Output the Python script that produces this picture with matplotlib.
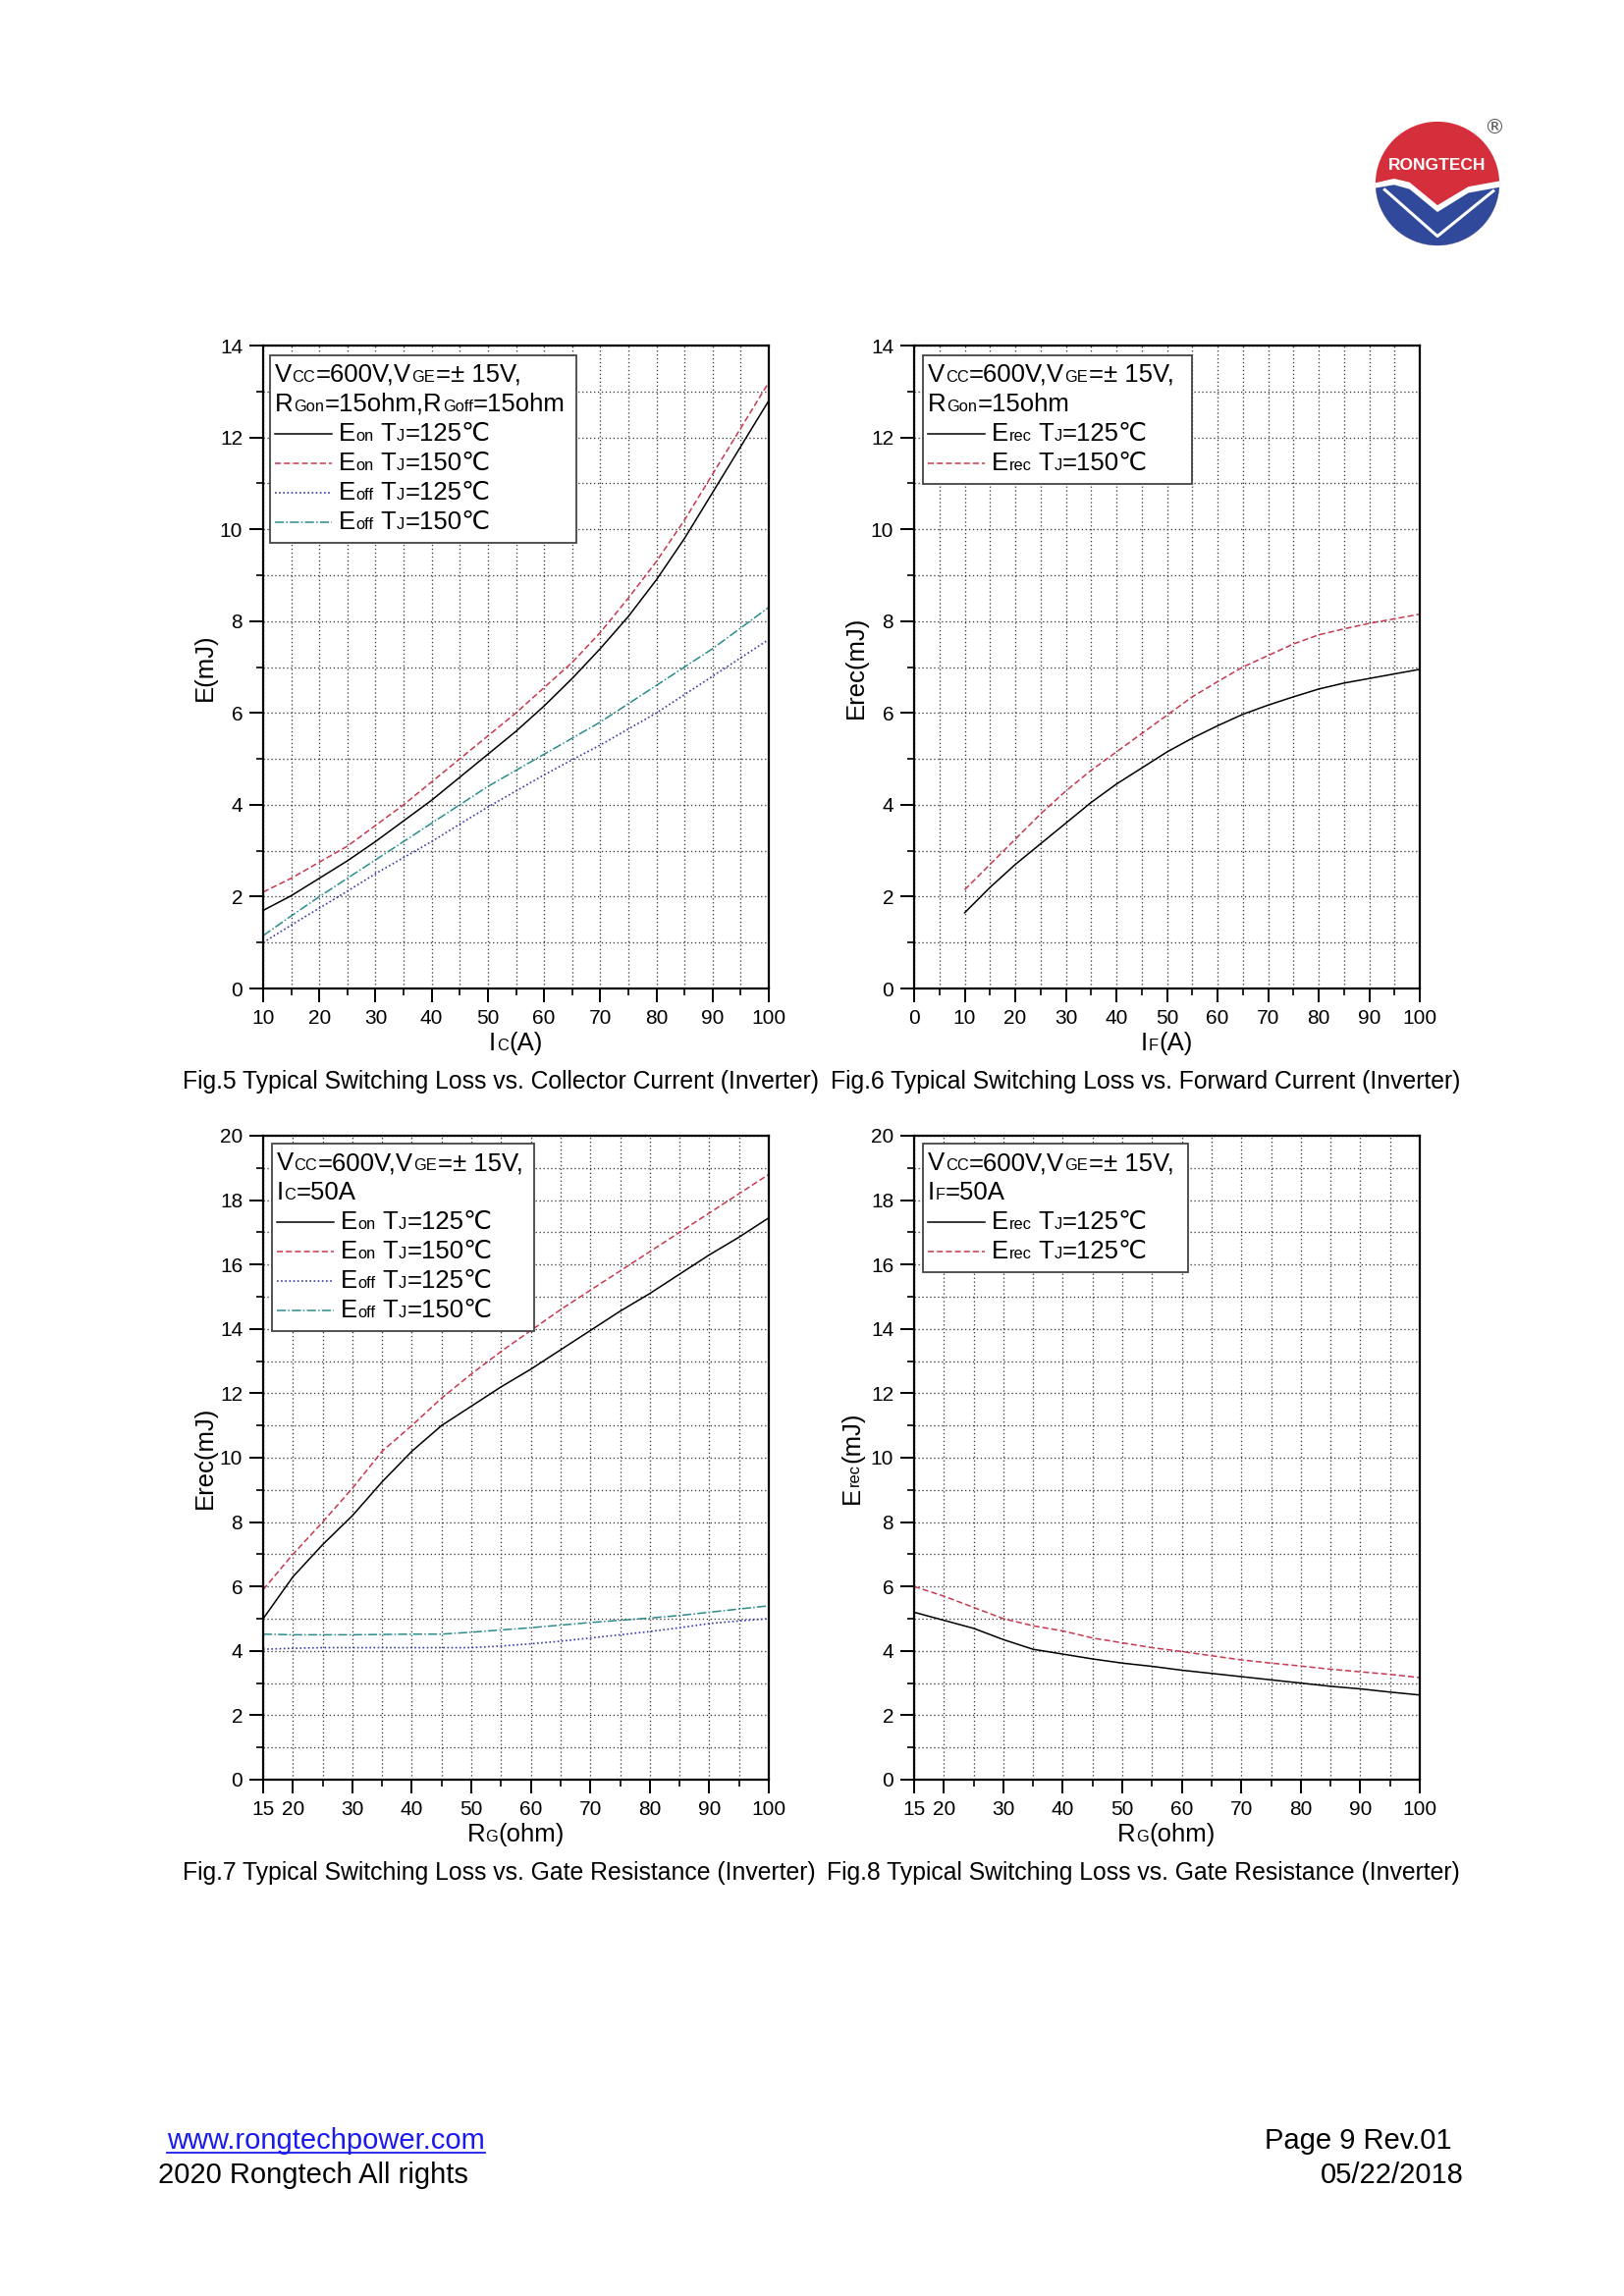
import matplotlib
matplotlib.use('Agg')
import matplotlib.pyplot as plt
import numpy as np
from matplotlib.transforms import IdentityTransform
from matplotlib.ticker import MultipleLocator, FixedLocator
from matplotlib.patches import Circle, Rectangle, Polygon
from matplotlib.lines import Line2D

W, H = 1654, 2339
plt.rcParams['font.family'] = ['Liberation Sans', 'DejaVu Sans']

# Fig.5 - switching loss vs collector current
ic = [10, 15, 20, 25, 30, 35, 40, 45, 50, 55, 60, 65, 70, 75, 80, 85, 90, 95, 100]
eon125_ic = [1.7, 2.02, 2.4, 2.78, 3.2, 3.65, 4.1, 4.6, 5.1, 5.6, 6.15, 6.75, 7.4, 8.1, 8.9, 9.8, 10.8, 11.8, 12.8]
eon150_ic = [2.1, 2.4, 2.75, 3.1, 3.55, 4.0, 4.5, 5.0, 5.5, 6.0, 6.55, 7.1, 7.75, 8.5, 9.3, 10.2, 11.2, 12.2, 13.2]
eoff125_ic = [1.0, 1.38, 1.75, 2.12, 2.5, 2.85, 3.2, 3.58, 3.95, 4.3, 4.65, 4.98, 5.3, 5.65, 6.0, 6.4, 6.8, 7.2, 7.6]
eoff150_ic = [1.15, 1.58, 2.0, 2.4, 2.8, 3.2, 3.6, 4.0, 4.4, 4.75, 5.1, 5.45, 5.8, 6.2, 6.6, 7.0, 7.4, 7.85, 8.3]

# Fig.6 - recovery loss vs forward current
i_f = [10, 15, 20, 25, 30, 35, 40, 45, 50, 55, 60, 65, 70, 75, 80, 85, 90, 95, 100]
erec125_if = [1.65, 2.2, 2.7, 3.15, 3.6, 4.05, 4.45, 4.8, 5.15, 5.45, 5.72, 5.97, 6.17, 6.35, 6.52, 6.65, 6.75, 6.85, 6.95]
erec150_if = [2.15, 2.7, 3.25, 3.8, 4.3, 4.75, 5.15, 5.55, 5.95, 6.35, 6.68, 7.0, 7.25, 7.5, 7.7, 7.83, 7.95, 8.05, 8.15]

# Fig.7 - switching loss vs gate resistance
rg = [15, 20, 25, 30, 35, 40, 45, 50, 55, 60, 65, 70, 75, 80, 85, 90, 95, 100]
eon125_rg = [5.0, 6.3, 7.3, 8.2, 9.25, 10.2, 11.0, 11.6, 12.2, 12.75, 13.35, 13.95, 14.55, 15.1, 15.7, 16.3, 16.85, 17.45]
eon150_rg = [5.9, 7.0, 8.0, 9.05, 10.2, 11.0, 11.85, 12.6, 13.3, 13.95, 14.6, 15.2, 15.8, 16.4, 17.0, 17.6, 18.2, 18.8]
eoff125_rg = [4.05, 4.08, 4.1, 4.1, 4.1, 4.1, 4.1, 4.1, 4.15, 4.22, 4.3, 4.4, 4.5, 4.6, 4.72, 4.85, 4.93, 5.0]
eoff150_rg = [4.52, 4.5, 4.5, 4.5, 4.51, 4.52, 4.52, 4.58, 4.65, 4.72, 4.8, 4.88, 4.95, 5.02, 5.1, 5.2, 5.3, 5.4]

# Fig.8 - recovery loss vs gate resistance
erec125_rg = [5.2, 4.95, 4.7, 4.35, 4.05, 3.9, 3.75, 3.62, 3.52, 3.4, 3.3, 3.2, 3.1, 3.0, 2.9, 2.82, 2.72, 2.63]
erec150_rg = [6.0, 5.7, 5.35, 5.0, 4.78, 4.62, 4.4, 4.25, 4.1, 3.98, 3.85, 3.72, 3.62, 3.53, 3.43, 3.35, 3.27, 3.17]

RED = '#c8384f'
BLUE = '#3a3aa8'
TEAL = '#2a8c8c'
STY = {
    'k': dict(color='black', linestyle='-', linewidth=1.1),
    'r': dict(color=RED, linestyle=(0, (4, 2)), linewidth=1.1),
    'b': dict(color=BLUE, linestyle=(0, (1, 1.5)), linewidth=1.2),
    't': dict(color=TEAL, linestyle=(0, (6, 1.5, 1, 1.5)), linewidth=1.1),
}

fig = plt.figure(figsize=(W / 100, H / 100), dpi=100)
renderer = fig.canvas.get_renderer()
ID = IdentityTransform()


def text_width(s, size):
    t = fig.text(0, 0, s, fontsize=size, transform=ID)
    w = t.get_window_extent(renderer).width
    t.remove()
    return w


def rich(x, y, parts, size, rot=0, center=False, color='black', small=0.64, gap=0.5):
    # parts: list of (text, is_small) or a number (extra gap in px)
    # x, y: baseline start in top-left pixel coords
    items = []
    for p in parts:
        if isinstance(p, (int, float)):
            items.append((None, p))
            continue
        s, sm = p
        fs = size * small if sm else size
        w = text_width(s, fs)
        t = fig.text(0, 0, s, fontsize=fs, transform=ID,
                     ha='left', va='baseline', rotation=rot, rotation_mode='anchor', color=color)
        items.append((t, w + gap))
    total = sum(w for _, w in items)
    pos = -total / 2 if center else 0
    for t, w in items:
        if t is not None:
            if rot:
                t.set_position((x, H - y + pos))
            else:
                t.set_position((x + pos, H - y))
        pos += w
    return total


def make_axes(l, t, r, b, xlim, xmajor, xminor, ymax):
    ax = fig.add_axes([l / W, 1 - b / H, (r - l) / W, (b - t) / H])
    ax.set_xlim(*xlim)
    ax.set_ylim(0, ymax)
    ax.xaxis.set_major_locator(FixedLocator(xmajor))
    ax.xaxis.set_minor_locator(FixedLocator(xminor))
    ax.yaxis.set_major_locator(MultipleLocator(2))
    ax.yaxis.set_minor_locator(MultipleLocator(1))
    ax.tick_params(which='major', direction='out', length=10, width=1.4, labelsize=15, pad=5)
    ax.tick_params(which='minor', direction='out', length=5, width=1.2)
    ax.grid(True, which='both', linestyle=(0, (1, 2)), color='#3a3a3a', linewidth=0.95)
    for sp in ax.spines.values():
        sp.set_linewidth(1.6)
    return ax


FS = 18.5


def legend_box(l, t, width, header, entries):
    # header: list of part-lists; entries: (style key, part-list)
    n = len(header) + len(entries)
    base0 = t + 27
    bottom = base0 + 30 * (n - 1) + 14
    fig.add_artist(Rectangle((l, H - bottom), width, bottom - t, transform=ID,
                             facecolor='white', edgecolor='#444444', linewidth=1.3, zorder=1))
    y = base0
    for parts in header:
        rich(l + 5, y, parts, FS)
        y += 30
    for key, parts in entries:
        st = STY[key]
        fig.add_artist(Line2D([l + 5, l + 63], [H - y + 7, H - y + 7], transform=ID,
                              color=st['color'], linestyle=st['linestyle'], linewidth=st['linewidth'], zorder=2))
        rich(l + 70, y, parts, FS)
        y += 30


def entry(e, tj):
    return [('E', False), (e, True), 6, ('T', False), ('J', True), ('=' + tj + '\u2103', False)]


VCC = [('V', False), ('CC', True), ('=600V,V', False), ('GE', True), ('=\u00b1 15V,', False)]

L1, R1, L2, R2 = 268, 783, 931, 1446
T1, B1, T2, B2 = 352, 1007, 1157, 1813
CAP = 17.8

# ---------------- Fig.5 ----------------
ax5 = make_axes(L1, T1, R1, B1, (10, 100), list(range(10, 101, 10)), list(range(15, 100, 10)), 14)
ax5.plot(ic, eon125_ic, **STY['k'])
ax5.plot(ic, eon150_ic, **STY['r'])
ax5.plot(ic, eoff125_ic, **STY['b'])
ax5.plot(ic, eoff150_ic, **STY['t'])
legend_box(L1 + 7, T1 + 10, 312,
           [VCC, [('R', False), ('Gon', True), ('=15ohm,R', False), ('Goff', True), ('=15ohm', False)]],
           [('k', entry('on', '125')), ('r', entry('on', '150')), ('b', entry('off', '125')), ('t', entry('off', '150'))])
rich((L1 + R1) / 2, B1 + 63, [('I', False), ('C', True), ('(A)', False)], FS, center=True)
rich(L1 - 52, (T1 + B1) / 2, [('E(mJ)', False)], FS, rot=90, center=True)
fig.text(186, H - (B1 + 102), 'Fig.5 Typical Switching Loss vs. Collector Current (Inverter)',
         transform=ID, fontsize=CAP, ha='left', va='baseline')

# ---------------- Fig.6 ----------------
ax6 = make_axes(L2, T1, R2, B1, (0, 100), list(range(0, 101, 10)), list(range(5, 100, 10)), 14)
ax6.plot(i_f, erec125_if, **STY['k'])
ax6.plot(i_f, erec150_if, **STY['r'])
legend_box(L2 + 9, T1 + 10, 274,
           [VCC, [('R', False), ('Gon', True), ('=15ohm', False)]],
           [('k', entry('rec', '125')), ('r', entry('rec', '150'))])
rich((L2 + R2) / 2, B1 + 63, [('I', False), ('F', True), ('(A)', False)], FS, center=True)
rich(L2 - 52, (T1 + B1) / 2, [('Erec(mJ)', False)], FS, rot=90, center=True)
fig.text(846, H - (B1 + 102), 'Fig.6 Typical Switching Loss vs. Forward Current (Inverter)',
         transform=ID, fontsize=CAP, ha='left', va='baseline')

# ---------------- Fig.7 ----------------
rg_major = [15] + list(range(20, 101, 10))
rg_minor = list(range(25, 100, 10))
ax7 = make_axes(L1, T2, R1, B2, (15, 100), rg_major, rg_minor, 20)
ax7.plot(rg, eon125_rg, **STY['k'])
ax7.plot(rg, eon150_rg, **STY['r'])
ax7.plot(rg, eoff125_rg, **STY['b'])
ax7.plot(rg, eoff150_rg, **STY['t'])
legend_box(L1 + 9, T2 + 8, 267,
           [VCC, [('I', False), ('C', True), ('=50A', False)]],
           [('k', entry('on', '125')), ('r', entry('on', '150')), ('b', entry('off', '125')), ('t', entry('off', '150'))])
rich((L1 + R1) / 2, B2 + 63, [('R', False), ('G', True), ('(ohm)', False)], FS, center=True)
rich(L1 - 52, (T2 + B2) / 2, [('Erec(mJ)', False)], FS, rot=90, center=True)
fig.text(186, H - (B2 + 102), 'Fig.7 Typical Switching Loss vs. Gate Resistance (Inverter)',
         transform=ID, fontsize=CAP, ha='left', va='baseline')

# ---------------- Fig.8 ----------------
ax8 = make_axes(L2, T2, R2, B2, (15, 100), rg_major, rg_minor, 20)
ax8.plot(rg, erec125_rg, **STY['k'])
ax8.plot(rg, erec150_rg, **STY['r'])
legend_box(L2 + 9, T2 + 8, 270,
           [VCC, [('I', False), ('F', True), ('=50A', False)]],
           [('k', entry('rec', '125')), ('r', entry('rec', '125'))])
rich((L2 + R2) / 2, B2 + 63, [('R', False), ('G', True), ('(ohm)', False)], FS, center=True)
rich(L2 - 56, (T2 + B2) / 2, [('E', False), ('rec', True), ('(mJ)', False)], FS, rot=90, center=True)
fig.text(842, H - (B2 + 102), 'Fig.8 Typical Switching Loss vs. Gate Resistance (Inverter)',
         transform=ID, fontsize=CAP, ha='left', va='baseline')

# ---------------- logo ----------------
cx, cy, r = 1464, 187, 63
lax = fig.add_axes([(cx - r - 2) / W, 1 - (cy + r + 2) / H, (2 * r + 4) / W, (2 * r + 4) / H])
lax.set_xlim(-1.03, 1.03)
lax.set_ylim(-1.03, 1.03)
lax.axis('off')
clip = Circle((0, 0), 1, transform=lax.transData)
lax.add_patch(Circle((0, 0), 1, facecolor='#d62f3c', edgecolor='none'))
band_top = [(-1.05, 0.0), (-0.7, 0.08), (-0.45, 0.02), (0, -0.35), (0.5, -0.05), (1.05, 0.05)]
blue_top = [(-1.05, -0.08), (-0.7, -0.02), (-0.45, -0.09), (0, -0.46), (0.5, -0.15), (1.05, -0.05)]
p = Polygon(band_top + [(1.05, -1.1), (-1.05, -1.1)], facecolor='white', edgecolor='none')
lax.add_patch(p)
p.set_clip_path(clip)
p = Polygon(blue_top + [(1.05, -1.1), (-1.05, -1.1)], facecolor='#30499a', edgecolor='none')
lax.add_patch(p)
p.set_clip_path(clip)
ln, = lax.plot([-0.85, 0, 0.9], [-0.1, -0.85, -0.12], color='white', linewidth=2.2)
ln.set_clip_path(clip)
lax.text(0, 0.29, 'RONGTECH', color='white', fontsize=12.5, fontweight='bold', ha='center', va='center')
fig.text(1522, H - 130, '\u00ae', transform=ID, fontsize=15, color='#555555', ha='center', va='center',
         family='DejaVu Sans')

# ---------------- footer ----------------
FF = 21
t = fig.text(170, H - 2189, 'www.rongtechpower.com', transform=ID, fontsize=FF, color='#1a1aee',
             ha='left', va='baseline')
bb = t.get_window_extent(renderer)
fig.add_artist(Line2D([bb.x0, bb.x1], [H - 2193, H - 2193], transform=ID, color='#1a1aee', linewidth=1.3))
fig.text(161, H - 2224, '2020 Rongtech All rights', transform=ID, fontsize=FF, ha='left', va='baseline')
fig.text(1479, H - 2189, 'Page 9 Rev.01', transform=ID, fontsize=FF, ha='right', va='baseline')
fig.text(1491, H - 2224, '05/22/2018', transform=ID, fontsize=FF, ha='right', va='baseline')

fig.savefig('out.png', dpi=100)
